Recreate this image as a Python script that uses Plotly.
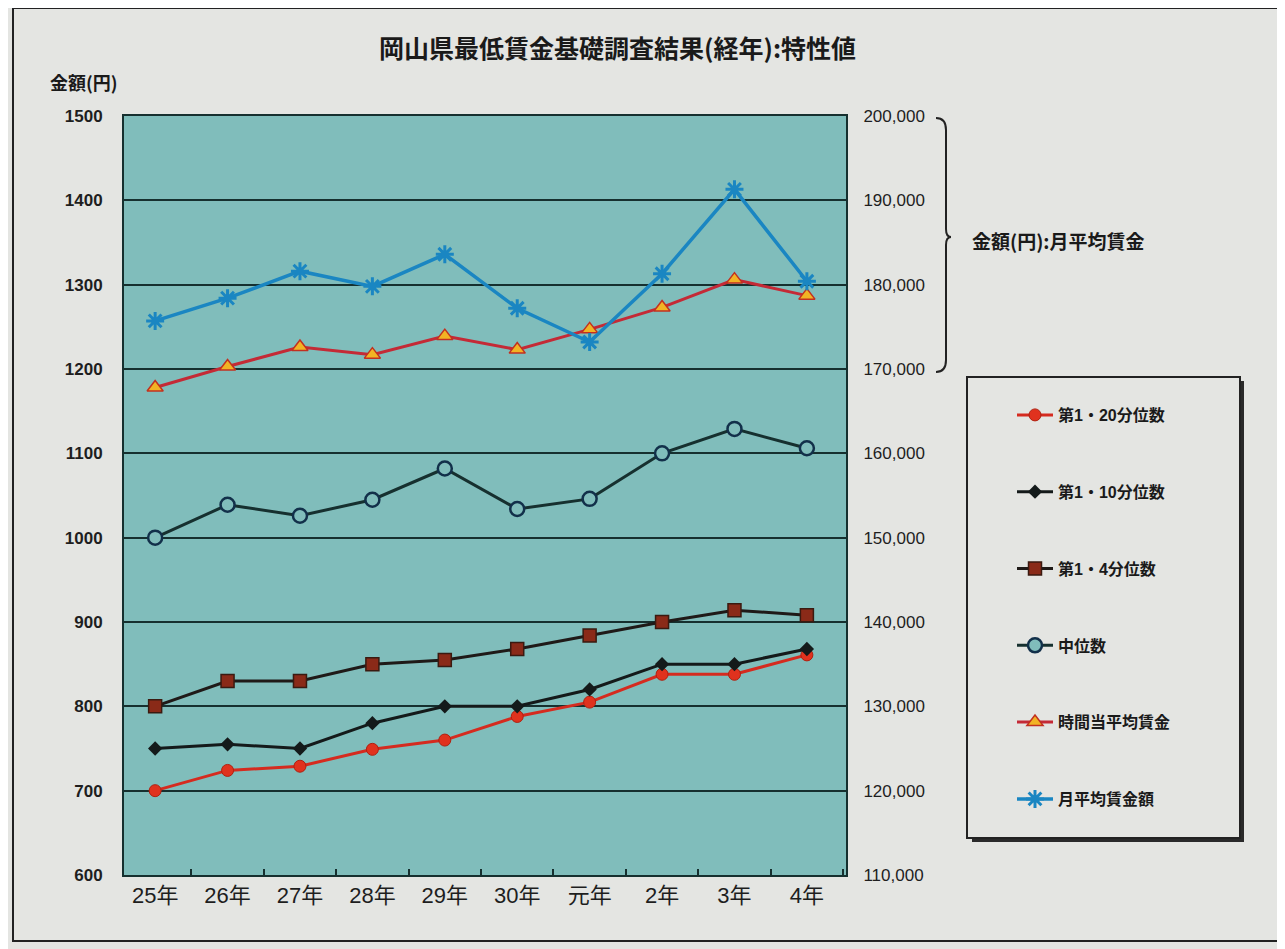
import plotly.graph_objects as go

years = ["25年", "26年", "27年", "28年", "29年", "30年", "元年", "2年", "3年", "4年"]
p20 = [700, 724, 729, 749, 760, 788, 805, 838, 838, 861]
p10 = [750, 755, 750, 780, 800, 800, 820, 850, 850, 868]
q1 = [800, 830, 830, 850, 855, 868, 884, 900, 914, 908]
median = [1000, 1039, 1026, 1045, 1082, 1034, 1046, 1100, 1129, 1106]
hourly = [1178, 1203, 1226, 1217, 1239, 1223, 1247, 1273, 1306, 1287]
monthly = [175700, 178400, 181600, 179800, 183600, 177200, 173200, 181300, 191300, 180400]

# page offset (body margin) and figure size
OFF = 8
W, H = 1285 - OFF, 949 - OFF
# plot area in page pixels: x 124..846, y 116..875
L, R, T, B = 124, 846, 116, 875
def px(x):
    return (x - L) / (R - L)
def py(y):
    return (B - y) / (B - T)

FONT = "Liberation Sans, Noto Sans CJK JP, sans-serif"
CJK = "Noto Sans CJK JP, sans-serif"
PLOT_BG = "#80bdbb"
PAPER_BG = "#e4e5e2"
DARK = "#16302f"

fig = go.Figure()

fig.add_trace(go.Scatter(
    x=years, y=p20, name="第1・20分位数", mode="lines+markers",
    line=dict(color="#d52b1f", width=3),
    marker=dict(symbol="circle", size=12, color="#e0321e", line=dict(color="#b02010", width=1)),
    legendgroup="a"))
fig.add_trace(go.Scatter(
    x=years, y=p10, name="第1・10分位数", mode="lines+markers",
    line=dict(color="#141a1a", width=3),
    marker=dict(symbol="diamond", size=11, color="#141a1a"),
    legendgroup="b"))
fig.add_trace(go.Scatter(
    x=years, y=q1, name="第1・4分位数", mode="lines+markers",
    line=dict(color="#1f1a18", width=3),
    marker=dict(symbol="square", size=13, color="#8a2a18", line=dict(color="#3a1a10", width=1.5)),
    legendgroup="c"))
fig.add_trace(go.Scatter(
    x=years, y=median, name="中位数", mode="lines+markers",
    line=dict(color="#16302f", width=3),
    marker=dict(symbol="circle", size=14, color=PLOT_BG, line=dict(color="#12304a", width=2.5)),
    legendgroup="d"))
fig.add_trace(go.Scatter(
    x=years, y=hourly, name="時間当平均賃金", mode="lines+markers",
    line=dict(color="#c42a36", width=3),
    marker=dict(symbol="triangle-up", size=14, color="#f2b324", line=dict(color="#c23020", width=1.5)),
    legendgroup="e"))
fig.add_trace(go.Scatter(
    x=years, y=monthly, name="月平均賃金額", mode="lines+markers", yaxis="y2",
    line=dict(color="#1a86c2", width=3.5),
    marker=dict(symbol="asterisk-open", size=15, color="#1a86c2", line=dict(color="#1a86c2", width=3)),
    legendgroup="f"))

shapes = []
# outer frame
shapes.append(dict(type="rect", xref="paper", yref="paper",
                   x0=px(13), x1=px(1281), y0=py(8), y1=py(941),
                   line=dict(color="#222", width=2), fillcolor="rgba(0,0,0,0)", layer="below"))
# legend box shadow + box
shapes.append(dict(type="rect", xref="paper", yref="paper",
                   x0=px(972), x1=px(1244), y0=py(381), y1=py(842),
                   line=dict(color="#222", width=0), fillcolor="#2a2a2a", layer="below"))
shapes.append(dict(type="rect", xref="paper", yref="paper",
                   x0=px(967), x1=px(1240), y0=py(377), y1=py(838),
                   line=dict(color="#222", width=2), fillcolor=PAPER_BG, layer="below"))
# brace
bx, by0, by1, bm = 946, 118, 372, 237
path = (f"M {px(936)},{py(by0)} Q {px(bx)},{py(by0)} {px(bx)},{py(by0+12)} "
        f"L {px(bx)},{py(bm-8)} Q {px(bx)},{py(bm)} {px(bx+5)},{py(bm)} "
        f"Q {px(bx)},{py(bm)} {px(bx)},{py(bm+8)} "
        f"L {px(bx)},{py(by1-12)} Q {px(bx)},{py(by1)} {px(936)},{py(by1)}")
shapes.append(dict(type="path", xref="paper", yref="paper", path=path,
                   line=dict(color="#222", width=2)))

annotations = [
    dict(text="<b>岡山県最低賃金基礎調査結果(経年):特性値</b>", xref="paper", yref="paper",
         x=px(617), y=py(47), xanchor="center", yanchor="middle", showarrow=False,
         font=dict(family=CJK, size=25, color="#1a1a1a")),
    dict(text="<b>金額(円)</b>", xref="paper", yref="paper",
         x=px(48), y=py(82), xanchor="left", yanchor="middle", showarrow=False,
         font=dict(family=CJK, size=18, color="#1a1a1a")),
    dict(text="<b>金額(円):月平均賃金</b>", xref="paper", yref="paper",
         x=px(970), y=py(240), xanchor="left", yanchor="middle", showarrow=False,
         font=dict(family=CJK, size=19, color="#1a1a1a")),
]

fig.update_layout(
    width=W, height=H,
    margin=dict(l=L - OFF, r=W - (R - OFF), t=T - OFF, b=H - (B - OFF), autoexpand=False),
    paper_bgcolor=PAPER_BG, plot_bgcolor=PLOT_BG,
    showlegend=True,
    legend=dict(x=px(1012), y=py(398), xanchor="left", yanchor="top",
                bgcolor="rgba(0,0,0,0)", borderwidth=0,
                tracegroupgap=53, itemwidth=36,
                font=dict(family=FONT, size=16, color="#1a1a1a", weight="bold")),
    xaxis=dict(type="category", range=[-0.43, 9.54], showgrid=False,
               showline=True, linecolor=DARK, linewidth=2, mirror=True,
               ticks="inside", tickson="boundaries", ticklen=6, tickcolor=DARK, tickwidth=1.5,
               tickfont=dict(family=FONT, size=22, color="#1e1e1e"), fixedrange=True),
    yaxis=dict(range=[600, 1500], dtick=100, showgrid=True, gridcolor=DARK, gridwidth=2,
               showline=True, linecolor=DARK, linewidth=2, mirror=True, zeroline=False,
               ticks="", tickfont=dict(family=FONT, size=17, color="#1e1e1e", weight="bold"),
               ticklabelstandoff=16),
    yaxis2=dict(range=[110000, 200000], dtick=10000, overlaying="y", side="right",
                showgrid=False, showline=True, linecolor=DARK, linewidth=2, zeroline=False,
                tickformat=",", ticks="",
                tickfont=dict(family=FONT, size=17, color="#1e1e1e"),
                ticklabelstandoff=12),
    shapes=shapes, annotations=annotations,
)

fig.write_html("out.html")
